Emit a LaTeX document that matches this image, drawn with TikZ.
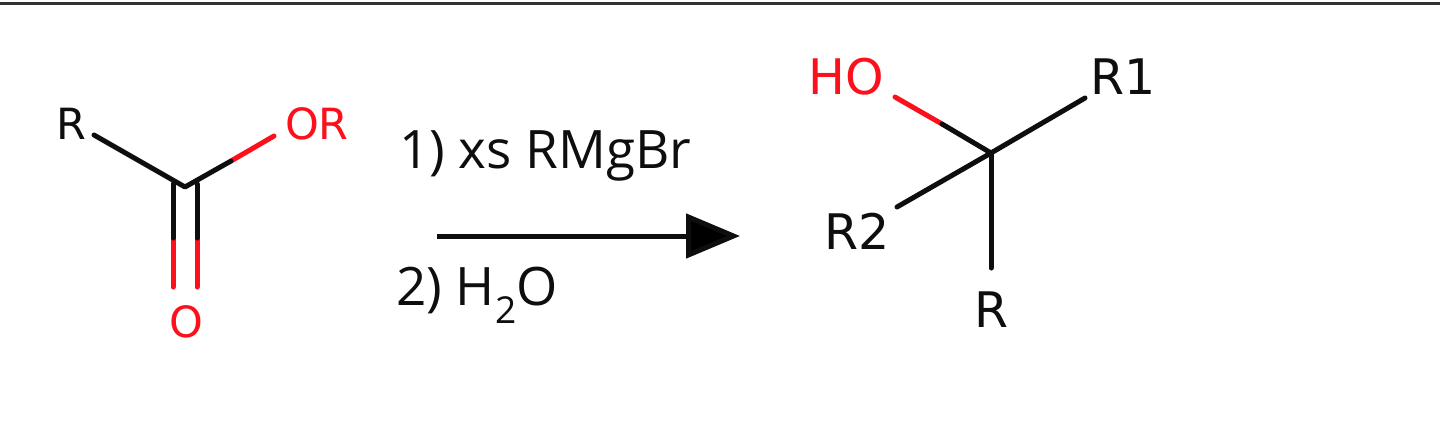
\documentclass[tikz,border=0pt]{standalone}
\usepackage{fontspec}
\setmainfont{DejaVu Sans}
\newfontfamily\rxnfont{Open Sans}
\usetikzlibrary{arrows.meta}
\definecolor{atomred}{RGB}{252,16,28}
\definecolor{ink}{RGB}{14,14,14}
\tikzset{
 px/.style={x=1pt,y=-1pt},
 bond/.style={line width=5pt,draw=ink,line cap=round,line join=round},
 redbond/.style={line width=5pt,draw=atomred,line cap=round},
 lab/.style={inner sep=0pt,text=ink,font=\fontsize{49}{49}\selectfont},
 redlab/.style={lab,text=atomred},
 small/.style={lab,font=\fontsize{43}{43}\selectfont},
 smallred/.style={small,text=atomred},
 rxn/.style={inner sep=0pt,text=ink,font=\rxnfont\fontsize{53}{53}\selectfont},
 bigarrow/.style={line width=5pt,draw=ink,-{Triangle[length=54pt,width=44pt,fill=black]}},
}
\begin{document}
\begin{tikzpicture}[px]
\useasboundingbox (0,0) rectangle (1440,423);
\fill[white] (0,0) rectangle (1440,423);
\coordinate (ruleL) at (0,3.5);
\coordinate (ruleR) at (1440,3.5);
\draw[line width=3.6pt,draw=ink!85] (ruleL) -- (ruleR);
% ester
\node[small] (r) at (71,124) {R};
\node[smallred] (or) at (317,124) {OR};
\node[small,text=atomred] (o) at (186,322) {O};
\coordinate (c) at (185,187);
\coordinate (m1) at (231,161);
\coordinate (dl) at (173,184);
\coordinate (dr) at (197,184);
\coordinate (dlm) at (173,238);
\coordinate (drm) at (197,238);
\coordinate (dle) at (173,287);
\coordinate (dre) at (197,287);
\coordinate (rb) at (94,135);
\coordinate (orb) at (274,136);
\draw[redbond] (m1) -- (orb);
\draw[redbond] (dlm) -- (dle);
\draw[redbond] (drm) -- (dre);
\draw[bond] (rb) -- (c) -- (m1);
\draw[bond] (dl) -- (dlm);
\draw[bond] (dr) -- (drm);
% conditions
\node[rxn,anchor=base west] (t1) at (399,168) {1) xs RMgBr};
\node[rxn,anchor=base west] (t2) at (396,305) {2) H\textsubscript{2}O};
\coordinate (a1) at (437,236);
\coordinate (a2) at (740,236);
\draw[bigarrow] (a1) -- (a2);
% product
\node[redlab] (ho) at (846,77) {HO};
\node[lab] (r1) at (1123,77) {R1};
\node[lab] (r2) at (857,231) {R2};
\node[lab] (r3) at (992,310) {R};
\coordinate (cc) at (991,153);
\coordinate (hm) at (942,124);
\coordinate (hob) at (895,97);
\coordinate (r1b) at (1085,98);
\coordinate (r2b) at (897,207);
\coordinate (r3b) at (991,268);
\draw[redbond] (hob) -- (hm);
\draw[bond] (hm) -- (cc) -- (r1b);
\draw[bond] (cc) -- (r2b);
\draw[bond] (cc) -- (r3b);
\end{tikzpicture}
\end{document}
